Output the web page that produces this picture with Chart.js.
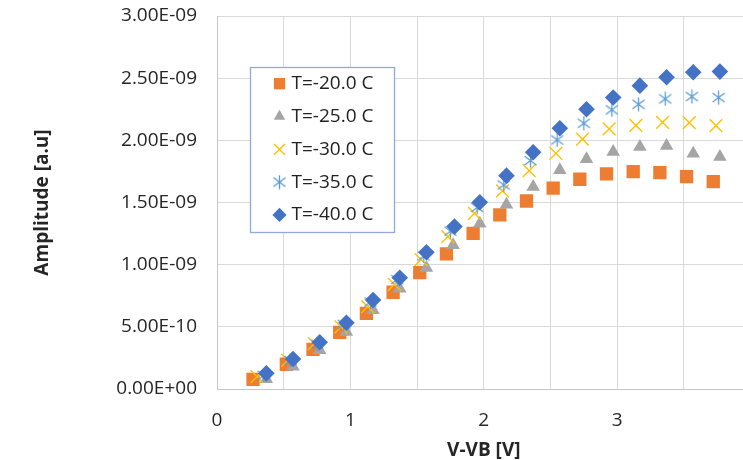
<!DOCTYPE html>
<html>
<head>
<meta charset="utf-8">
<script src="https://cdn.jsdelivr.net/npm/chart.js"></script>
<style>
  html, body { margin: 0; padding: 0; background: #fff; overflow: hidden; }
  #wrap { width: 743px; height: 460px; overflow: hidden; }
</style>
</head>
<body>
<div id="wrap"><canvas id="graphic" width="761" height="460"></canvas></div>
<script>
// Series labels (temperature)
var seriesLabels = ['T=-20.0 C', 'T=-25.0 C', 'T=-30.0 C', 'T=-35.0 C', 'T=-40.0 C'];

// V-VB [V] and amplitude [a.u] per temperature
var v20 = [0.27, 0.52, 0.72, 0.92, 1.12, 1.32, 1.52, 1.72, 1.92, 2.12, 2.32, 2.52, 2.72, 2.92, 3.12, 3.32, 3.52, 3.72];
var amp20 = [0.078e-9, 0.199e-9, 0.319e-9, 0.456e-9, 0.609e-9, 0.778e-9, 0.936e-9, 1.086e-9, 1.252e-9, 1.400e-9, 1.512e-9, 1.615e-9, 1.687e-9, 1.730e-9, 1.748e-9, 1.740e-9, 1.708e-9, 1.668e-9];

var v25 = [0.37, 0.57, 0.77, 0.97, 1.17, 1.37, 1.57, 1.77, 1.97, 2.17, 2.37, 2.57, 2.77, 2.97, 3.17, 3.37, 3.57, 3.77];
var amp25 = [0.080e-9, 0.180e-9, 0.312e-9, 0.460e-9, 0.634e-9, 0.808e-9, 0.975e-9, 1.157e-9, 1.331e-9, 1.484e-9, 1.626e-9, 1.761e-9, 1.849e-9, 1.908e-9, 1.948e-9, 1.956e-9, 1.894e-9, 1.868e-9];

var v30 = [0.30, 0.53, 0.73, 0.93, 1.13, 1.33, 1.53, 1.73, 1.93, 2.14, 2.34, 2.54, 2.74, 2.94, 3.14, 3.34, 3.54, 3.74];
var amp30 = [0.100e-9, 0.230e-9, 0.365e-9, 0.500e-9, 0.662e-9, 0.842e-9, 1.040e-9, 1.225e-9, 1.413e-9, 1.593e-9, 1.756e-9, 1.896e-9, 2.009e-9, 2.092e-9, 2.121e-9, 2.145e-9, 2.142e-9, 2.118e-9];

var v35 = [0.35, 0.55, 0.75, 0.95, 1.15, 1.35, 1.55, 1.75, 1.95, 2.15, 2.35, 2.55, 2.75, 2.96, 3.16, 3.36, 3.56, 3.76];
var amp35 = [0.110e-9, 0.230e-9, 0.360e-9, 0.520e-9, 0.700e-9, 0.880e-9, 1.070e-9, 1.270e-9, 1.460e-9, 1.641e-9, 1.837e-9, 2.003e-9, 2.137e-9, 2.245e-9, 2.290e-9, 2.333e-9, 2.352e-9, 2.344e-9];

var v40 = [0.37, 0.57, 0.77, 0.97, 1.17, 1.37, 1.57, 1.78, 1.97, 2.17, 2.37, 2.57, 2.77, 2.97, 3.17, 3.37, 3.57, 3.77];
var amp40 = [0.126e-9, 0.241e-9, 0.376e-9, 0.533e-9, 0.716e-9, 0.895e-9, 1.100e-9, 1.306e-9, 1.502e-9, 1.716e-9, 1.904e-9, 2.097e-9, 2.250e-9, 2.344e-9, 2.440e-9, 2.507e-9, 2.548e-9, 2.553e-9];

// Axis tick labels
var xTickLabels = ['0', '1', '2', '3'];

var FONT = '"Open Sans", "Liberation Sans", sans-serif';
var FONT_SIZE = 19;

function pairs(xs, ys) {
    return xs.map(function (x, i) { return { x: x, y: ys[i] }; });
}

// 0.00E+00 style labels
function sci(v) {
    var parts = Number(v).toExponential(2).toUpperCase().split('E');
    var exp = parseInt(parts[1], 10);
    var abs = Math.abs(exp);
    return parts[0] + 'E' + (exp < 0 ? '-' : '+') + (abs < 10 ? '0' : '') + abs;
}

// asterisk marker: vertical stroke plus an X
function makeStar(color) {
    var c = document.createElement('canvas');
    c.width = 15; c.height = 15;
    var g = c.getContext('2d');
    g.strokeStyle = color;
    g.lineWidth = 1.3;
    g.beginPath();
    g.moveTo(7.5, 0.5); g.lineTo(7.5, 14.5);
    g.moveTo(1.5, 3); g.lineTo(13.5, 12);
    g.moveTo(1.5, 12); g.lineTo(13.5, 3);
    g.stroke();
    return c;
}
var starMarker = makeStar('#5b9bd5');

// keep the plot area edges fixed, ignore label overhang
function noOverhang(scale) {
    scale.paddingLeft = 0;
    scale.paddingRight = 0;
    scale.paddingTop = 0;
    scale.paddingBottom = 0;
}

// legend drawn inside the plot area
var insideLegend = {
    id: 'insideLegend',
    afterDraw: function (chart, args, opts) {
        var ctx = chart.ctx;
        var area = chart.chartArea;
        var bx = area.left + opts.left, by = area.top + opts.top;
        ctx.save();
        ctx.fillStyle = '#ffffff';
        ctx.fillRect(bx, by, opts.width, opts.height);
        ctx.strokeStyle = opts.borderColor;
        ctx.lineWidth = 1.3;
        ctx.strokeRect(bx + 0.5, by + 0.5, opts.width, opts.height);
        ctx.font = opts.font;
        ctx.textBaseline = 'middle';
        ctx.textAlign = 'left';
        chart.data.datasets.forEach(function (ds, i) {
            var cy = by + opts.firstRow + i * opts.rowGap;
            var style = {
                pointStyle: ds.pointStyle,
                rotation: 0,
                radius: ds.pointRadius * opts.markerScale,
                borderWidth: ds.borderWidth
            };
            ctx.fillStyle = ds.backgroundColor;
            ctx.strokeStyle = ds.borderColor;
            ctx.lineWidth = ds.borderWidth;
            Chart.helpers.drawPoint(ctx, style, bx + opts.markerX, cy);
            ctx.fillStyle = opts.color;
            ctx.fillText(ds.label, bx + opts.textX, cy);
        });
        ctx.restore();
    }
};

var ctx = document.getElementById('graphic').getContext('2d');

var ampData = {
    datasets: [{
        label: seriesLabels[0],
        data: pairs(v20, amp20),
        pointStyle: 'rect',
        pointRadius: 9.4,
        backgroundColor: '#ed7d31',
        borderColor: '#ed7d31',
        borderWidth: 0,
        order: 4
    }, {
        label: seriesLabels[1],
        data: pairs(v25, amp25),
        pointStyle: 'triangle',
        pointRadius: 7.8,
        backgroundColor: '#a5a5a5',
        borderColor: '#a5a5a5',
        borderWidth: 0,
        order: 3
    }, {
        label: seriesLabels[2],
        data: pairs(v30, amp30),
        pointStyle: 'crossRot',
        pointRadius: 9,
        backgroundColor: '#ffc000',
        borderColor: '#ffc000',
        borderWidth: 1.4,
        order: 2
    }, {
        label: seriesLabels[3],
        data: pairs(v35, amp35),
        pointStyle: starMarker,
        pointRadius: 7,
        backgroundColor: '#5b9bd5',
        borderColor: '#5b9bd5',
        borderWidth: 0,
        order: 1
    }, {
        label: seriesLabels[4],
        data: pairs(v40, amp40),
        pointStyle: 'rectRot',
        pointRadius: 8.3,
        backgroundColor: '#4472c4',
        borderColor: '#4472c4',
        borderWidth: 0,
        order: 0
    }]
};

var ampOptions = {
    responsive: false,
    animation: false,
    events: [],
    layout: { padding: { left: 0, top: 16, right: 7, bottom: 0 } },
    plugins: {
        legend: { display: false },
        tooltip: { enabled: false },
        insideLegend: {
            left: 33, top: 51, width: 144, height: 165,
            firstRow: 16.7, rowGap: 32.8, markerX: 29.5, textX: 41.5,
            markerScale: 0.85,
            font: FONT_SIZE + 'px ' + FONT,
            color: '#222222',
            borderColor: '#8faadc'
        }
    },
    scales: {
        x: {
            type: 'linear',
            min: 0,
            max: 4,
            afterFit: function (scale) { scale.height = 71; noOverhang(scale); },
            grid: { color: '#d9d9d9', lineWidth: 1, drawTicks: false },
            border: { color: '#c6c6c6', width: 1 },
            ticks: {
                stepSize: 0.5,
                padding: 20.5,
                color: '#262626',
                font: { family: FONT, size: FONT_SIZE },
                callback: function (v) {
                    return Math.abs(v - Math.round(v)) < 1e-6 && xTickLabels.indexOf(String(Math.round(v))) >= 0
                        ? String(Math.round(v)) : '';
                }
            },
            title: {
                display: true,
                text: 'V-VB [V]',
                color: '#262626',
                padding: { top: 0, bottom: 0 },
                font: { family: FONT, size: FONT_SIZE, weight: 'bold', lineHeight: 1 }
            }
        },
        y: {
            min: 0,
            max: 3e-9,
            afterFit: function (scale) { scale.width = 217; noOverhang(scale); },
            grid: { color: '#d9d9d9', lineWidth: 1, drawTicks: false },
            border: { color: '#c6c6c6', width: 1 },
            ticks: {
                stepSize: 0.5e-9,
                padding: 20,
                color: '#262626',
                font: { family: FONT, size: FONT_SIZE },
                callback: function (v) { return sci(v); }
            },
            title: {
                display: true,
                text: 'Amplitude [a.u]',
                color: '#262626',
                padding: { top: 31.5, bottom: 0 },
                font: { family: FONT, size: FONT_SIZE, weight: 'bold', lineHeight: 1.2 }
            }
        }
    }
};

var graphic = new Chart(ctx, {
    type: 'scatter',
    data: ampData,
    options: ampOptions,
    plugins: [insideLegend]
});
</script>
</body>
</html>
